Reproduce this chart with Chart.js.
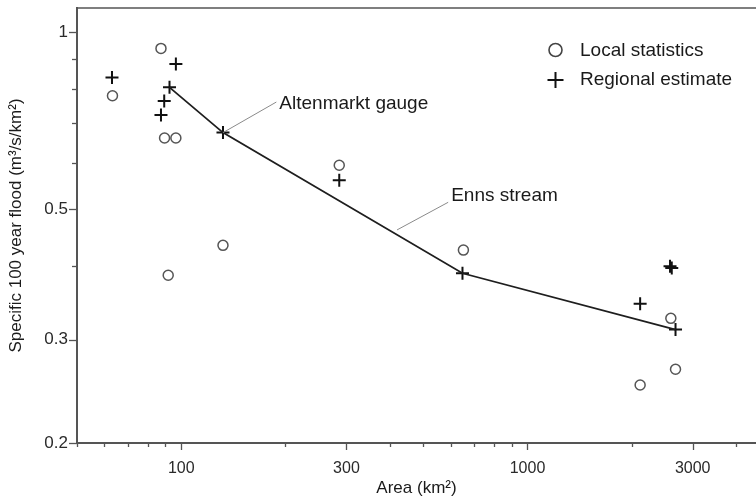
<!DOCTYPE html>
<html>
<head>
<meta charset="utf-8">
<title>Specific 100 year flood</title>
<script src="https://cdn.jsdelivr.net/npm/chart.js@4/dist/chart.umd.min.js"></script>
<style>
  html, body { margin: 0; padding: 0; background: #fff; overflow: hidden; }
  #wrap { width: 756px; height: 499px; position: relative; }
  canvas { display: block; }
</style>
</head>
<body>
<div id="wrap"><canvas id="myChart"></canvas></div>
<script>
// catchment area (km2) and specific 100 year flood (m3/s/km2)
const localArea  = [63.3, 87.4, 89.5, 96.5, 91.7, 132, 286, 653, 2594, 2676, 2115];
const localFlood = [0.780, 0.939, 0.661, 0.661, 0.386, 0.434, 0.594, 0.426, 0.326, 0.267, 0.251];

const regionalArea  = [63.1, 96.5, 92.5, 89.3, 87.4, 132, 286, 649, 2115, 2580, 2610, 2676];
const regionalFlood = [0.838, 0.883, 0.806, 0.764, 0.723, 0.675, 0.560, 0.389, 0.345, 0.400, 0.397, 0.312];

// Enns stream longitudinal profile
const ennsArea  = [92.5, 132, 649, 2676];
const ennsFlood = [0.806, 0.675, 0.389, 0.312];

// axis ticks
const xTicks  = [50, 60, 70, 80, 90, 100, 200, 300, 400, 500, 600, 700, 800, 900, 1000, 2000, 3000, 4000];
const xLabels = [100, 300, 1000, 3000];
const yTicks  = [0.2, 0.3, 0.4, 0.5, 0.6, 0.7, 0.8, 0.9, 1];
const yLabels = [0.2, 0.3, 0.5, 1];

const FONT = "'Liberation Sans', Arial, Helvetica, sans-serif";

function toPoints(xs, ys) {
  return xs.map((x, i) => ({ x: x, y: ys[i] }));
}

// top frame line + tick marks of two lengths
const frameTicks = {
  id: 'frameTicks',
  afterDraw(chart) {
    const { ctx, chartArea, scales } = chart;
    ctx.save();
    ctx.strokeStyle = '#555';
    ctx.lineWidth = 1.5;

    ctx.beginPath();
    ctx.moveTo(chartArea.left - 1, chartArea.top);
    ctx.lineTo(chartArea.right, chartArea.top);
    ctx.stroke();

    ctx.lineWidth = 1.3;
    xTicks.forEach(v => {
      const px = Math.round(scales.x.getPixelForValue(v)) + 0.5;
      const len = xLabels.includes(v) ? 7 : 4;
      ctx.beginPath();
      ctx.moveTo(px, chartArea.bottom);
      ctx.lineTo(px, chartArea.bottom + len);
      ctx.stroke();
    });
    yTicks.forEach(v => {
      const py = Math.round(scales.y.getPixelForValue(v)) + 0.5;
      const len = yLabels.includes(v) ? 8 : 5;
      ctx.beginPath();
      ctx.moveTo(chartArea.left, py);
      ctx.lineTo(chartArea.left - len, py);
      ctx.stroke();
    });
    ctx.restore();
  }
};

// text labels with leader lines, anchored in data units
const notes = [
  { text: 'Altenmarkt gauge', from: [132, 0.675], at: [192, 0.755], dx: -3, dy: -2 },
  { text: 'Enns stream', from: [420, 0.461], at: [602, 0.528], dx: -3, dy: 7 }
];

const annotations = {
  id: 'annotations',
  afterDatasetsDraw(chart) {
    const { ctx, scales } = chart;
    ctx.save();
    notes.forEach(n => {
      const x0 = scales.x.getPixelForValue(n.from[0]);
      const y0 = scales.y.getPixelForValue(n.from[1]);
      const x1 = scales.x.getPixelForValue(n.at[0]);
      const y1 = scales.y.getPixelForValue(n.at[1]);
      ctx.strokeStyle = '#8a8a8a';
      ctx.lineWidth = 1;
      ctx.beginPath();
      ctx.moveTo(x0, y0);
      ctx.lineTo(x1 + n.dx, y1 + n.dy);
      ctx.stroke();
      ctx.fillStyle = '#1a1a1a';
      ctx.font = '19px ' + FONT;
      ctx.textBaseline = 'middle';
      ctx.textAlign = 'left';
      ctx.fillText(n.text, x1, y1);
    });
    ctx.restore();
  }
};

// legend in the upper right corner
const cornerLegend = {
  id: 'cornerLegend',
  afterDraw(chart) {
    const ctx = chart.ctx;
    ctx.save();
    ctx.font = '19px ' + FONT;
    ctx.textBaseline = 'middle';
    ctx.fillStyle = '#1a1a1a';

    ctx.strokeStyle = '#444';
    ctx.lineWidth = 1.6;
    ctx.beginPath();
    ctx.arc(555.5, 50, 6.5, 0, Math.PI * 2);
    ctx.stroke();
    ctx.fillText('Local statistics', 580, 50.5);

    ctx.strokeStyle = '#111';
    ctx.lineWidth = 2;
    ctx.beginPath();
    ctx.moveTo(547.5, 80); ctx.lineTo(563.5, 80);
    ctx.moveTo(555.5, 72); ctx.lineTo(555.5, 88);
    ctx.stroke();
    ctx.fillText('Regional estimate', 580, 79.5);
    ctx.restore();
  }
};

const ctx = document.getElementById('myChart').getContext('2d');

new Chart(ctx, {
  type: 'scatter',
  data: {
    datasets: [
      {
        label: 'Enns stream',
        type: 'line',
        data: toPoints(ennsArea, ennsFlood),
        borderColor: '#1e1e1e',
        borderWidth: 1.8,
        pointRadius: 0,
        fill: false,
        tension: 0
      },
      {
        label: 'Local statistics',
        data: toPoints(localArea, localFlood),
        pointStyle: 'circle',
        pointRadius: 5,
        borderColor: '#555',
        borderWidth: 1.5,
        backgroundColor: 'rgba(0,0,0,0)'
      },
      {
        label: 'Regional estimate',
        data: toPoints(regionalArea, regionalFlood),
        pointStyle: 'cross',
        pointRadius: 6.5,
        borderColor: '#111',
        borderWidth: 2
      }
    ]
  },
  options: {
    responsive: true,
    maintainAspectRatio: false,
    animation: false,
    events: [],
    // no auto padding, otherwise the point radius eats the right edge
    layout: { autoPadding: false, padding: { top: 8, left: 0, right: 0, bottom: 0 } },
    plugins: {
      legend: { display: false },
      tooltip: { enabled: false }
    },
    scales: {
      x: {
        type: 'logarithmic',
        min: 50,
        max: 4570,
        afterBuildTicks: s => { s.ticks = xTicks.map(v => ({ value: v })); },
        afterFit: s => { s.height = 56; s.paddingLeft = 0; s.paddingRight = 0; },
        grid: { drawOnChartArea: false, tickLength: 8, tickColor: 'rgba(0,0,0,0)' },
        border: { color: '#555', width: 2 },
        ticks: {
          autoSkip: false,
          maxRotation: 0,
          padding: 8,
          color: '#2a2a2a',
          font: { family: FONT, size: 16 },
          callback: v => xLabels.includes(v) ? String(v) : ''
        },
        title: {
          display: true,
          text: 'Area (km²)',
          color: '#1a1a1a',
          font: { family: FONT, size: 17 },
          padding: { top: 0, bottom: 0 }
        }
      },
      y: {
        type: 'logarithmic',
        min: 0.2,
        max: 1.1,
        afterBuildTicks: s => { s.ticks = yTicks.map(v => ({ value: v })); },
        afterFit: s => { s.width = 77; s.paddingTop = 0; s.paddingBottom = 0; },
        grid: { drawOnChartArea: false, tickLength: 8, tickColor: 'rgba(0,0,0,0)' },
        border: { color: '#555', width: 2 },
        ticks: {
          autoSkip: false,
          padding: 1,
          color: '#2a2a2a',
          font: { family: FONT, size: 17 },
          callback: v => yLabels.includes(v) ? String(v) : ''
        },
        title: {
          display: true,
          text: 'Specific 100 year flood (m³/s/km²)',
          color: '#1a1a1a',
          font: { family: FONT, size: 17 },
          padding: { top: 6, bottom: 0 }
        }
      }
    }
  },
  plugins: [frameTicks, annotations, cornerLegend]
});
</script>
</body>
</html>
